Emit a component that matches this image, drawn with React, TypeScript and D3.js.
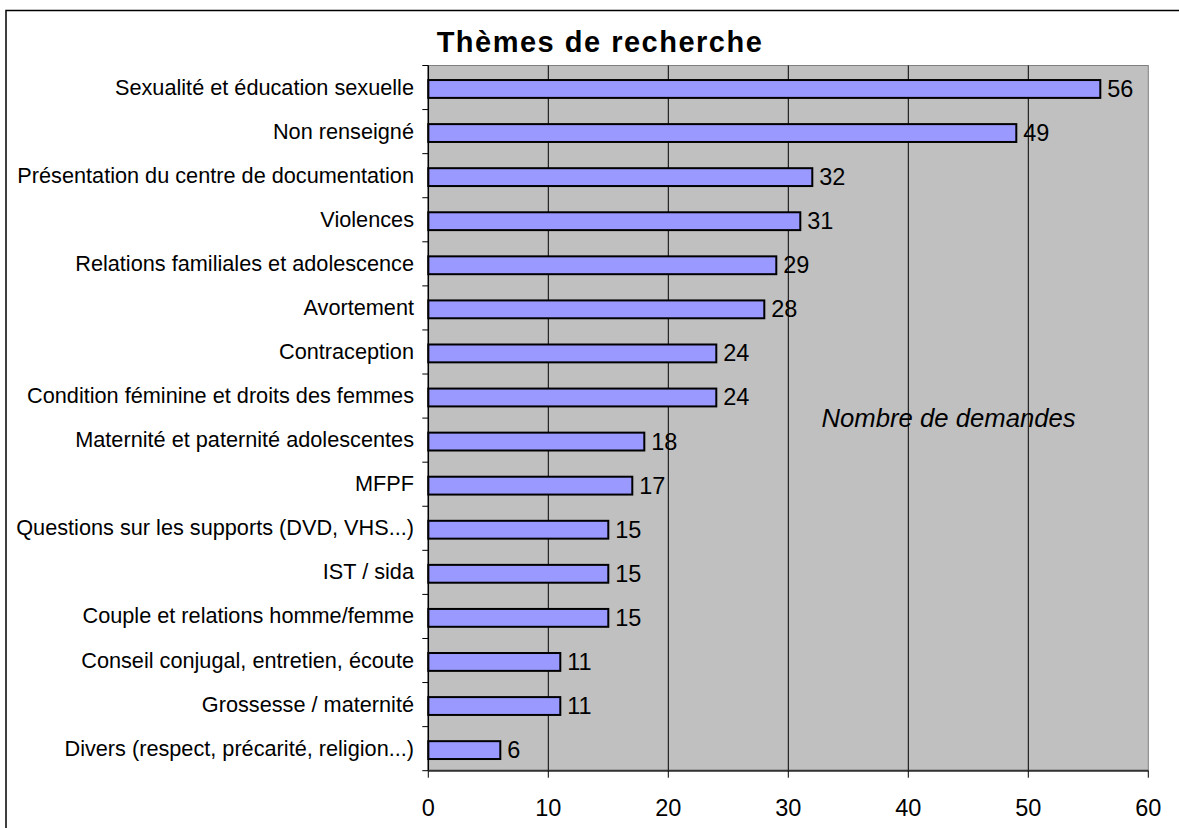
import React from "react";
import * as d3 from "d3";

const categories = [
  "Sexualité et éducation sexuelle",
  "Non renseigné",
  "Présentation du centre de documentation",
  "Violences",
  "Relations familiales et adolescence",
  "Avortement",
  "Contraception",
  "Condition féminine et droits des femmes",
  "Maternité et paternité adolescentes",
  "MFPF",
  "Questions sur les supports (DVD, VHS...)",
  "IST / sida",
  "Couple et relations homme/femme",
  "Conseil conjugal, entretien, écoute",
  "Grossesse / maternité",
  "Divers (respect, précarité, religion...)",
];
const values = [56, 49, 32, 31, 29, 28, 24, 24, 18, 17, 15, 15, 15, 11, 11, 6];
const xTicks = [0, 10, 20, 30, 40, 50, 60];
const title = "Thèmes de recherche";
const axisTitle = "Nombre de demandes";

const W = 1179;
const H = 828;
const plot = { left: 428.3, right: 1148.3, top: 65.5, bottom: 770.7 };
const font = "Arial, 'Liberation Sans', sans-serif";

export default function App() {
  const x = d3.scaleLinear().domain([0, 60]).range([plot.left, plot.right]);
  const y = d3
    .scaleBand<string>()
    .domain(categories)
    .range([plot.top, plot.bottom])
    .padding(0);
  const step = y.step();
  const barOff = step * 0.33;
  const barH = step * 0.405;

  return (
    <svg
      width={W}
      height={H}
      style={{ position: "absolute", left: 0, top: 0, background: "#fff" }}
      fontFamily={font}
    >
      <rect x={0} y={0} width={W} height={H} fill="#fff" />
      {/* chart border */}
      <rect x={6} y={10.5} width={W + 20} height={H + 20} fill="none" stroke="#000" strokeWidth={1.5} />
      {/* title */}
      <text
        x={600}
        y={52}
        textAnchor="middle"
        fontSize={29}
        fontWeight="bold"
        letterSpacing={1.5}
        fill="#000"
      >
        {title}
      </text>
      {/* plot background */}
      <rect
        x={plot.left}
        y={plot.top}
        width={plot.right - plot.left}
        height={plot.bottom - plot.top}
        fill="#C0C0C0"
        stroke="#808080"
        strokeWidth={1}
      />
      {/* gridlines */}
      {xTicks.slice(1, -1).map((t) => (
        <line key={"g" + t} x1={x(t)} x2={x(t)} y1={plot.top} y2={plot.bottom} stroke="#000" strokeWidth={1} />
      ))}
      {/* axis title */}
      <text x={821.5} y={426.5} fontSize={25.7} fontStyle="italic" fill="#000">
        {axisTitle}
      </text>
      {/* bars */}
      {categories.map((c, i) => (
        <g key={c}>
          <rect
            x={x(0)}
            y={(y(c) as number) + barOff}
            width={x(values[i]) - x(0)}
            height={barH}
            fill="#9999FF"
            stroke="#000"
            strokeWidth={2}
          />
          <text
            x={x(values[i]) + 7}
            y={(y(c) as number) + barOff + barH / 2 + 8}
            fontSize={23.5}
            fill="#000"
          >
            {values[i]}
          </text>
          <text
            x={414}
            y={(y(c) as number) + step / 2 + 7}
            textAnchor="end"
            fontSize={21.7}
            fill="#000"
          >
            {c}
          </text>
        </g>
      ))}
      {/* y axis */}
      <line x1={plot.left} x2={plot.left} y1={plot.top} y2={plot.bottom} stroke="#000" strokeWidth={1.5} />
      {d3.range(categories.length + 1).map((i) => (
        <line
          key={"yt" + i}
          x1={plot.left - 6}
          x2={plot.left}
          y1={plot.top + i * step}
          y2={plot.top + i * step}
          stroke="#000"
          strokeWidth={1}
        />
      ))}
      {/* x axis */}
      <line x1={plot.left} x2={plot.right} y1={plot.bottom} y2={plot.bottom} stroke="#333" strokeWidth={2} />
      {xTicks.map((t) => (
        <g key={"xt" + t}>
          <line x1={x(t)} x2={x(t)} y1={plot.bottom} y2={plot.bottom + 7} stroke="#000" strokeWidth={1} />
          <text x={x(t)} y={815.5} textAnchor="middle" fontSize={23.5} fill="#000">
            {t}
          </text>
        </g>
      ))}
    </svg>
  );
}
